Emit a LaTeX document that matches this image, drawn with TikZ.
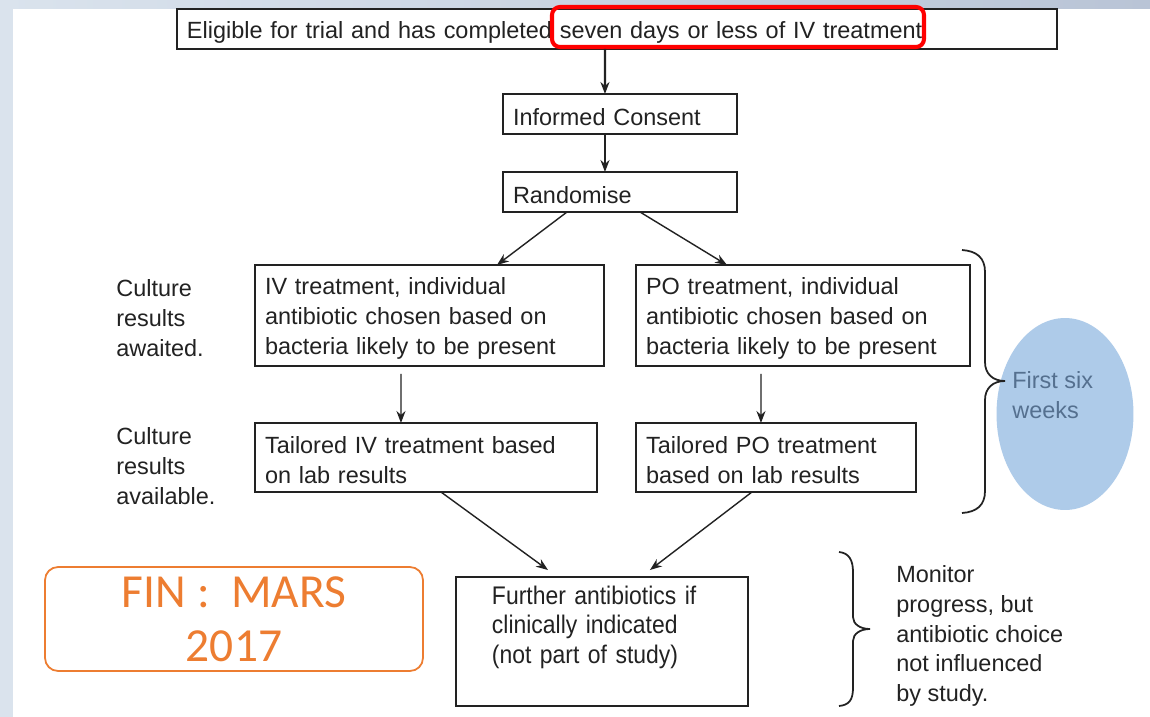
\documentclass[tikz,border=0pt]{standalone}
\usepackage{fontspec}
\setmainfont{Liberation Sans}
\newfontfamily\finfont{Carlito}
\usetikzlibrary{positioning,shapes.geometric,arrows.meta}
\definecolor{slidebg}{HTML}{DAE3ED}
\definecolor{slidetop}{HTML}{B9C4D6}
\definecolor{markred}{HTML}{FF0000}
\definecolor{finorange}{HTML}{ED7D31}
\definecolor{weekblue}{HTML}{AECBE9}
\definecolor{weektext}{HTML}{55708F}
\definecolor{inkgrey}{HTML}{222222}
\tikzset{
  flowbox/.style={draw=inkgrey, line width=1.1pt, rectangle, anchor=north west, align=left, inner xsep=0.2cm, inner ysep=0pt, outer sep=0pt, text height=0.46cm, text=inkgrey},
  sidenote/.style={anchor=west, align=left, inner sep=0pt, text=inkgrey},
  arrow/.style={-{Stealth[length=2.4mm,width=1.8mm]}, line width=0.8pt, draw=inkgrey},
  curly/.style={line width=1pt, draw=inkgrey}
}
\begin{document}
\begin{tikzpicture}[x=0.02cm, y=-0.02cm, font=\fontsize{13.35pt}{17pt}\selectfont]
  \useasboundingbox (0,0) rectangle (1150,717);
  % slide background
  \fill[slidebg] (0,0) rectangle (13,717);
  \shade[left color=slidebg, right color=slidetop] (0,0) rectangle (1150,9);
  \fill[white] (13,9) rectangle (1150,717);

  \node[flowbox, text width=17.2cm, minimum height=0.8cm] (elig) at (177,9) {Eligible for trial and has completed seven days or less of IV treatment};
  \draw[markred, line width=2.3pt, rounded corners=0.16cm] (552,7) rectangle (924,47);
  \node[flowbox, text width=4.28cm, minimum height=0.8cm] (consent) at (503,94) {Informed Consent};
  \node[flowbox, text width=4.28cm, minimum height=0.8cm] (rand) at (503,172) {Randomise};
  \node[flowbox, text width=6.58cm, minimum height=2.02cm] (ivtreat) at (255,265) {IV treatment, individual\\antibiotic chosen based on\\bacteria likely to be present};
  \node[flowbox, text width=6.28cm, minimum height=2.02cm] (potreat) at (636,265) {PO treatment, individual\\antibiotic chosen based on\\bacteria likely to be present};
  \node[flowbox, text width=6.44cm, minimum height=1.38cm] (ivtail) at (255,423) {Tailored IV treatment based\\on lab results};
  \node[flowbox, text width=5.2cm, minimum height=1.38cm] (potail) at (636,423) {Tailored PO treatment\\based on lab results};
  \node[flowbox, text width=4.4cm, inner xsep=0.72cm, inner ysep=0.08cm, text depth=1.96cm, font=\addfontfeatures{FakeStretch=0.9}\fontsize{14.5pt}{17pt}\selectfont] (further) at (456,577) {Further antibiotics if\\clinically indicated\\(not part of study)};

  \draw[arrow, line width=1.3pt] ([xshift=-0.24cm]elig.south) -- ([xshift=-0.3cm]consent.north);
  \draw[arrow, line width=1.1pt] ([xshift=-0.3cm]consent.south) -- ([xshift=-0.3cm]rand.north);
  \draw[arrow] ([xshift=-1.06cm]rand.south) -- ([xshift=1.35cm]ivtreat.north);
  \draw[arrow] ([xshift=0.4cm]rand.south) -- ([xshift=-1.52cm]potreat.north);
  \draw[arrow] ([xshift=-0.57cm, yshift=-0.16cm]ivtreat.south) -- ([xshift=-0.5cm]ivtail.north);
  \draw[arrow] ([xshift=-0.84cm, yshift=-0.16cm]potreat.south) -- ([xshift=-0.3cm]potail.north);
  \draw[arrow] ([xshift=0.3cm]ivtail.south) -- ([xshift=-1.08cm, yshift=0.14cm]further.north);
  \draw[arrow] ([xshift=-0.48cm]potail.south) -- ([xshift=0.96cm, yshift=0.14cm]further.north);

  \node[sidenote] (awaited) at (116,318) {Culture\\results\\awaited.};
  \node[sidenote] (available) at (116,466) {Culture\\results\\available.};

  % first six weeks
  \node[ellipse, fill=weekblue, minimum width=2.74cm, minimum height=3.84cm, inner sep=0pt] (weeks) at (1065,414) {};
  \draw[curly] (962,250) .. controls (977,251) and (985,258) .. (985,272) -- (985,362)
    .. controls (985,374) and (993,381) .. (1005,381) .. controls (993,381) and (985,388) .. (985,400)
    -- (985,491) .. controls (985,505) and (977,512) .. (962,513);
  \node[sidenote, text=weektext] (weekstxt) at (1012,395) {First six\\weeks};

  % monitor
  \draw[curly] (839,552) .. controls (849,553) and (853,560) .. (853,572) -- (853,617)
    .. controls (853,624) and (860,629) .. (870,629) .. controls (860,629) and (853,634) .. (853,641)
    -- (853,688) .. controls (853,700) and (849,705) .. (839,706);
  \node[sidenote] (monitor) at (896,636) {Monitor\\progress, but\\antibiotic choice\\not influenced\\by study.};

  \node[draw=finorange, line width=1pt, rounded corners=0.26cm, minimum width=7.56cm, minimum height=2.08cm, text=finorange, align=center, font=\finfont\fontsize{27pt}{31pt}\selectfont] (fin) at (234,619) {FIN :\ \ MARS\\2017};
\end{tikzpicture}
\end{document}
